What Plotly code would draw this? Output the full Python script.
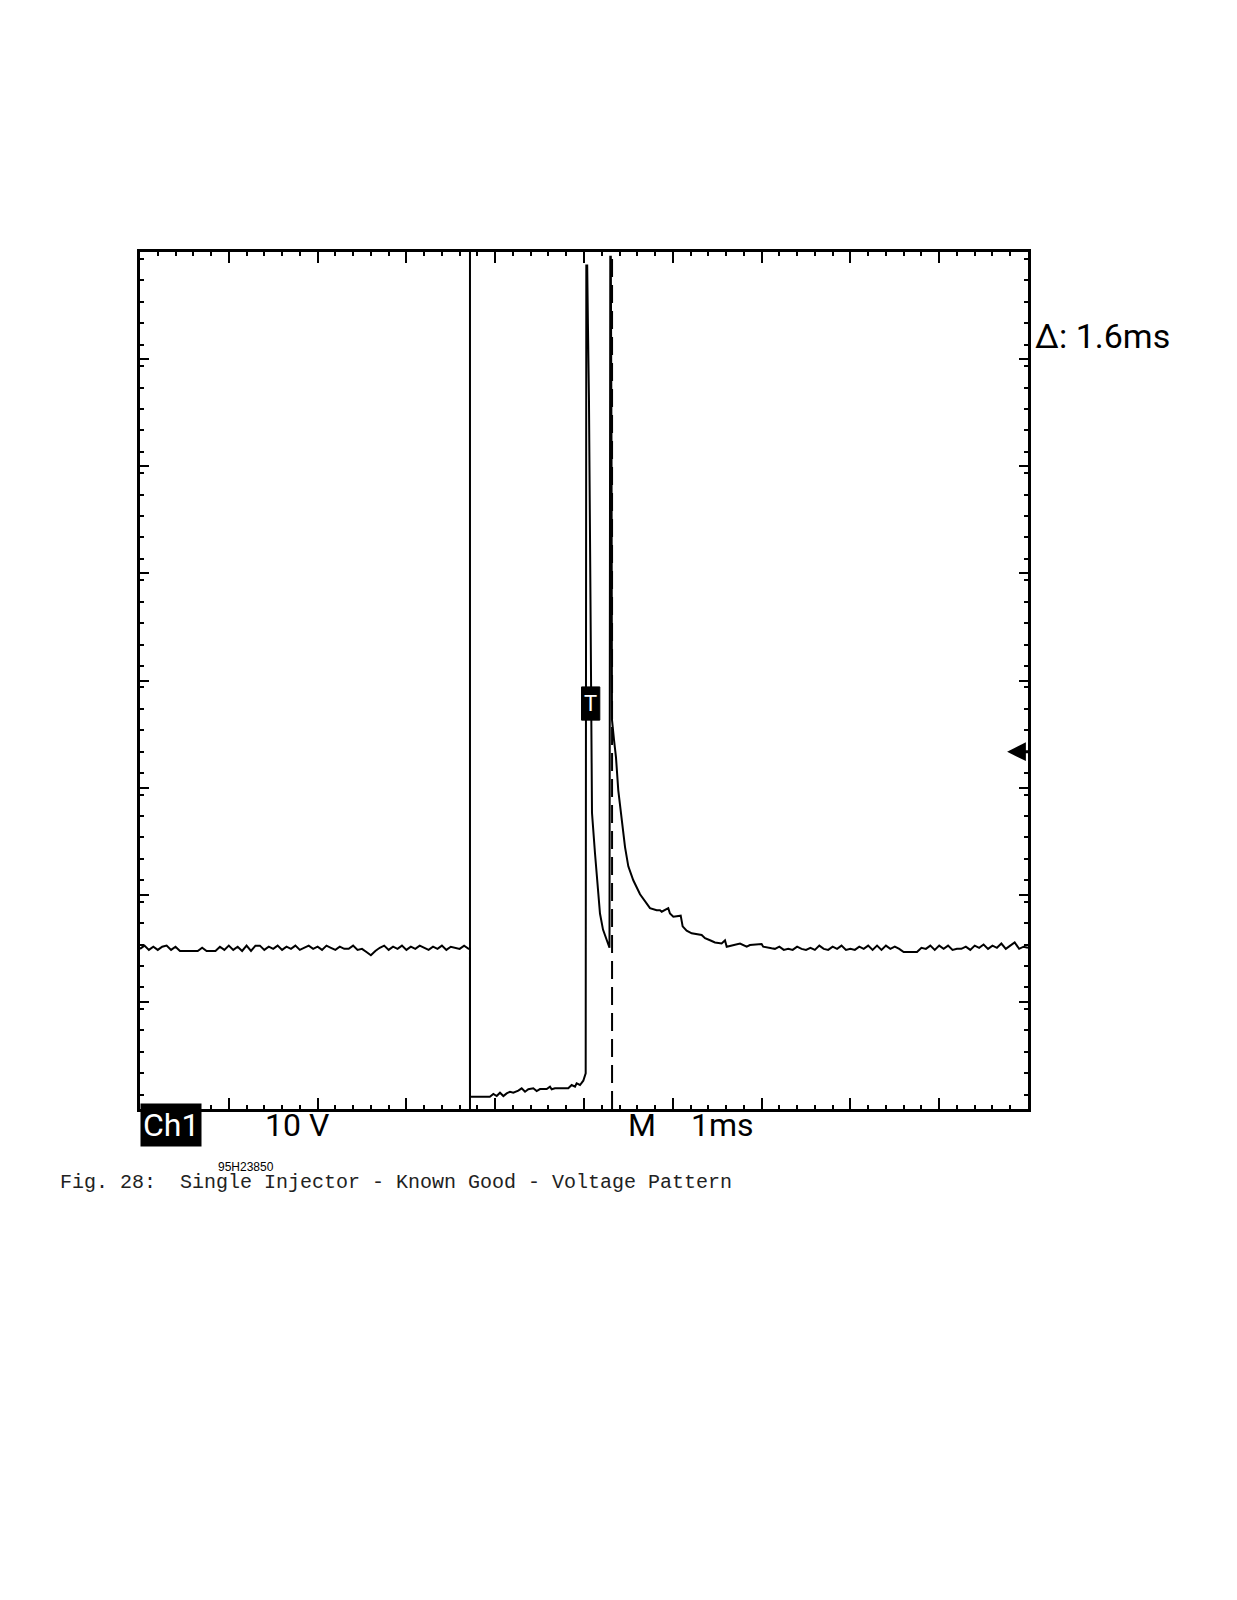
import plotly.graph_objects as go

# ---------------- data (time in ms, voltage in V) ----------------
pre_t = [0.00, 0.05, 0.10, 0.15, 0.20, 0.25, 0.30, 0.35, 0.40, 0.45,
         0.50, 0.55, 0.60, 0.65, 0.70, 0.75, 0.80, 0.85, 0.90, 0.95,
         1.00, 1.05, 1.10, 1.15, 1.20, 1.25, 1.30, 1.35, 1.40, 1.45,
         1.50, 1.55, 1.60, 1.65, 1.70, 1.75, 1.80, 1.85, 1.90, 1.95,
         2.00, 2.05, 2.10, 2.15, 2.20, 2.25, 2.30, 2.35, 2.40, 2.45,
         2.50, 2.55, 2.60, 2.65, 2.70, 2.75, 2.80, 2.85, 2.90, 2.95,
         3.00, 3.05, 3.10, 3.15, 3.20, 3.25, 3.30, 3.35, 3.40, 3.45,
         3.50, 3.55, 3.60, 3.65, 3.70]
pre_v = [13.6, 13.9, 13.5, 13.8, 13.5, 13.8, 13.9, 13.5, 13.8, 13.4,
         13.4, 13.4, 13.4, 13.4, 13.7, 13.4, 13.4, 13.4, 13.8, 13.5,
         13.9, 13.5, 13.8, 13.4, 13.9, 13.4, 13.9, 13.9, 13.5, 13.8,
         13.6, 13.9, 13.5, 13.8, 13.6, 13.9, 13.5, 13.7, 13.9, 13.6,
         13.8, 13.5, 13.9, 13.7, 13.5, 13.8, 13.6, 13.6, 13.9, 13.5,
         13.6, 13.3, 13.0, 13.4, 13.7, 13.9, 13.5, 13.8, 13.6, 13.9,
         13.5, 13.8, 13.6, 13.9, 13.7, 13.5, 13.8, 13.6, 13.9, 13.5,
         13.8, 13.7, 13.6, 13.9, 13.6]

low_t = [3.716, 3.716, 3.94, 3.979, 4.017, 4.054, 4.092, 4.129, 4.167, 4.204,
         4.26, 4.298, 4.336, 4.373, 4.429, 4.467, 4.505, 4.58, 4.617, 4.636,
         4.673, 4.75, 4.823, 4.861, 4.899, 4.917, 4.955, 4.992, 5.019]
low_v = [13.6, -0.2, -0.2, 0.05, -0.14, 0.17, -0.14, 0.11, 0.26, 0.17,
         0.36, 0.58, 0.26, 0.49, 0.58, 0.33, 0.51, 0.51, 0.73, 0.49,
         0.58, 0.56, 0.58, 0.89, 0.73, 1.05, 0.89, 1.29, 1.98]

spike_t = [5.026, 5.036, 5.044, 5.056, 5.073, 5.086, 5.090, 5.124, 5.143, 5.180,
           5.214, 5.248, 5.287, 5.296, 5.302, 5.310, 5.315, 5.338, 5.360, 5.386,
           5.424, 5.462, 5.499, 5.555, 5.631, 5.706, 5.743, 5.818, 5.856]
spike_v = [77.4, 77.4, 72.0, 64.8, 46.2, 35.0, 26.3, 22.5, 20.7, 16.9,
           15.4, 14.6, 13.7, 78.2, 78.2, 60.0, 35.0, 33.1, 31.5, 28.4,
           25.6, 23.1, 21.3, 20.0, 18.7, 17.9, 17.4, 17.2, 17.2]

tail_t = [5.875, 5.912, 5.949, 5.968, 6.006, 6.089, 6.111, 6.156, 6.213, 6.325,
          6.363, 6.419, 6.475, 6.55, 6.588, 6.607, 6.681, 6.757, 6.832, 6.869,
          7.0, 7.018, 7.113]
tail_v = [17.07, 17.2, 17.4, 16.9, 16.6, 16.7, 15.7, 15.3, 15.05, 14.9,
          14.6, 14.4, 14.2, 14.1, 14.4, 13.8, 13.96, 14.1, 13.8, 13.96,
          14.05, 13.8, 13.65]

post_t = [7.15, 7.20, 7.25, 7.30, 7.35, 7.40, 7.45, 7.50, 7.55, 7.60,
          7.65, 7.70, 7.75, 7.80, 7.85, 7.90, 7.95, 8.00, 8.05, 8.10,
          8.15, 8.20, 8.25, 8.30, 8.35, 8.40, 8.45, 8.50, 8.55, 8.60,
          8.65, 8.70, 8.75, 8.80, 8.85, 8.90, 8.95, 9.00, 9.05, 9.10,
          9.15, 9.20, 9.25, 9.30, 9.35, 9.40, 9.45, 9.50, 9.55, 9.60,
          9.65, 9.70, 9.75, 9.80, 9.85, 9.90, 9.95, 10.00]
post_v = [13.6, 13.8, 13.5, 13.6, 13.5, 13.8, 13.6, 13.5, 13.7, 13.5,
          13.9, 13.6, 13.5, 13.8, 13.6, 13.9, 13.5, 13.6, 13.5, 13.8,
          13.6, 13.9, 13.5, 13.9, 13.5, 13.9, 13.6, 13.8, 13.6, 13.3,
          13.3, 13.3, 13.3, 13.7, 13.6, 13.9, 13.5, 13.9, 13.6, 13.9,
          13.5, 13.6, 13.6, 13.8, 13.5, 13.9, 13.7, 14.0, 13.6, 13.9,
          13.7, 14.1, 13.6, 13.9, 14.2, 13.6, 13.8, 13.7]

cursor1_ms = 3.716
delta_ms = 1.6
trigger_level_v = 32.0
trigger_pos_ms = 5.075
trigger_marker_v = 36.5

volts_per_div = 10
ms_per_div = 1
x_range = [0, 10]
y_range = [-1.35, 78.65]

# ---------------- figure ----------------
t_all = pre_t + low_t + spike_t + tail_t + post_t
v_all = pre_v + low_v + spike_v + tail_v + post_v

fig = go.Figure()
fig.add_trace(go.Scatter(x=t_all, y=v_all, mode="lines",
                         line=dict(color="black", width=2),
                         hoverinfo="skip", showlegend=False))

cursor2_ms = cursor1_ms + delta_ms
fig.add_shape(type="line", xref="x", yref="paper", x0=cursor1_ms, x1=cursor1_ms,
              y0=0, y1=1, line=dict(color="black", width=2))
fig.add_shape(type="line", xref="x", yref="paper", x0=cursor2_ms, x1=cursor2_ms,
              y0=0, y1=1, line=dict(color="black", width=2, dash="18px,8px"))

# trigger position marker "T"
fig.add_shape(type="rect", xref="x", yref="y",
              x0=trigger_pos_ms - 0.103, x1=trigger_pos_ms + 0.103,
              y0=trigger_marker_v - 1.55, y1=trigger_marker_v + 1.55,
              fillcolor="black", line=dict(color="black", width=1), layer="above")
fig.add_annotation(x=trigger_pos_ms, y=trigger_marker_v, xref="x", yref="y",
                   text="T", showarrow=False,
                   font=dict(family="Roboto, sans-serif", size=22, color="white"))

# trigger level arrow on right edge
fig.add_annotation(x=9.765, y=trigger_level_v, xref="x", yref="y", text="",
                   showarrow=True, ax=24, ay=0, arrowhead=2, arrowsize=1.25,
                   arrowwidth=3, arrowcolor="black")

cond = "Roboto, sans-serif"
fig.add_annotation(xref="paper", yref="paper", x=0.0349, y=-0.0187,
                   text="Ch1", showarrow=False, bgcolor="black", borderpad=2,
                   font=dict(family=cond, size=32, color="white"),
                   xanchor="center", yanchor="middle")
fig.add_annotation(xref="paper", yref="paper", x=0.1768, y=-0.0187,
                   text=f"{volts_per_div} V", showarrow=False,
                   font=dict(family=cond, size=32, color="black"),
                   xanchor="center", yanchor="middle")
fig.add_annotation(xref="paper", yref="paper", x=0.5648, y=-0.0187,
                   text="M", showarrow=False,
                   font=dict(family=cond, size=32, color="black"),
                   xanchor="center", yanchor="middle")
fig.add_annotation(xref="paper", yref="paper", x=0.6565, y=-0.0187,
                   text=f"{ms_per_div}ms", showarrow=False,
                   font=dict(family=cond, size=32, color="black"),
                   xanchor="center", yanchor="middle")
fig.add_annotation(xref="paper", yref="paper", x=1.0056, y=0.902,
                   text=f"Δ: {delta_ms}ms", showarrow=False,
                   font=dict(family=cond, size=34, color="black"),
                   xanchor="left", yanchor="middle")
fig.add_annotation(xref="paper", yref="paper", x=0.1194, y=-0.0677,
                   text="95H23850", showarrow=False,
                   font=dict(family="Liberation Sans, Arial, sans-serif", size=12, color="black"),
                   xanchor="center", yanchor="middle")
fig.add_annotation(xref="paper", yref="paper", x=-0.0923, y=-0.0852,
                   text="Fig. 28: \u00a0Single Injector - Known Good - Voltage Pattern",
                   showarrow=False,
                   font=dict(family="Courier New, Liberation Mono, monospace", size=20, color="#222222"),
                   xanchor="left", yanchor="middle")

axis_common = dict(showgrid=False, zeroline=False, showticklabels=False,
                   showline=True, linecolor="black", linewidth=3, mirror="allticks",
                   ticks="inside", tickcolor="black", tickwidth=2)
fig.update_xaxes(range=x_range, tick0=0, dtick=ms_per_div, ticklen=11,
                 minor=dict(ticks="inside", dtick=0.2, ticklen=4, tickwidth=2, tickcolor="black"),
                 **axis_common)
fig.update_yaxes(range=y_range, tick0=y_range[0], dtick=volts_per_div, ticklen=9,
                 minor=dict(ticks="inside", dtick=2, ticklen=4, tickwidth=2, tickcolor="black"),
                 **axis_common)

fig.update_layout(width=1237, height=1600,
                  margin=dict(l=140, r=209, t=252, b=491, pad=0),
                  paper_bgcolor="white", plot_bgcolor="white",
                  showlegend=False)

fig.write_html("out.html", config={"displayModeBar": False},
               post_script="document.body.style.margin='0';")
